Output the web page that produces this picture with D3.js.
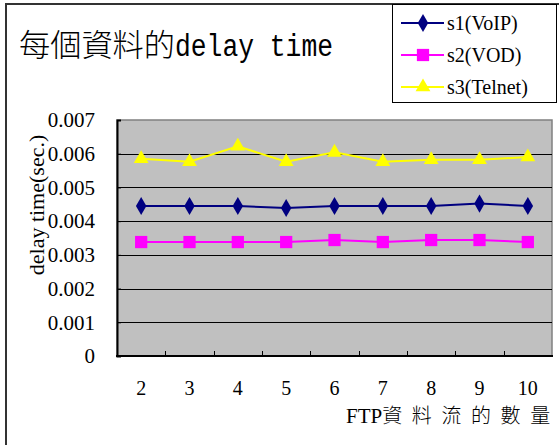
<!DOCTYPE html>
<html>
<head>
<meta charset="utf-8">
<script src="https://cdn.jsdelivr.net/npm/d3@7"></script>
<style>
  body { margin: 0; background: #fff; }
  svg { display: block; }
  .serif { font-family: "Liberation Serif", "DejaVu Serif", serif; }
</style>
</head>
<body>
<div id="chart"></div>
<script>
// data
var categories = [2, 3, 4, 5, 6, 7, 8, 9, 10];
var s1 = [0.00445, 0.00445, 0.00445, 0.00439, 0.00445, 0.00445, 0.00445, 0.00452, 0.00445];
var s2 = [0.00338, 0.00338, 0.00338, 0.00338, 0.00344, 0.00338, 0.00344, 0.00344, 0.00338];
var s3 = [0.00585, 0.00576, 0.00622, 0.00576, 0.00604, 0.00576, 0.00582, 0.00582, 0.00590];
var seriesNames = ["s1(VoIP)", "s2(VOD)", "s3(Telnet)"];
var yTicks = [0, 0.001, 0.002, 0.003, 0.004, 0.005, 0.006, 0.007];
var yTickLabels = ["0", "0.001", "0.002", "0.003", "0.004", "0.005", "0.006", "0.007"];

var W = 559, H = 445;
var cjk = "Noto Sans CJK TC";

var svg = d3.select("#chart").append("svg")
    .attr("width", W)
    .attr("height", H);

// outer chart frame (runs off the right/bottom edge)
svg.append("rect")
    .attr("x", 6).attr("y", 4)
    .attr("width", W + 10).attr("height", H + 10)
    .attr("fill", "#fff")
    .attr("stroke", "#333")
    .attr("stroke-width", 2);

// title
var title = svg.append("text")
    .attr("x", 19).attr("y", 56)
    .attr("font-size", 31)
    .attr("fill", "#000");
title.append("tspan")
    .style("font-family", cjk)
    .style("font-weight", 300)
    .attr("textLength", 156)
    .attr("lengthAdjust", "spacingAndGlyphs")
    .text("每個資料的");
title.append("tspan")
    .style("font-family", "Liberation Mono")
    .attr("textLength", 158)
    .attr("lengthAdjust", "spacingAndGlyphs")
    .text("delay time");

// scales
var x = d3.scaleBand().domain(categories).range([117, 552]);
var y = d3.scaleLinear().domain([0, 0.007]).range([356, 120]);
var cx = function(c) { return x(c) + x.bandwidth() / 2; };

// plot area
svg.append("rect")
    .attr("x", 117).attr("y", y(0.007))
    .attr("width", 552 - 117).attr("height", y(0) - y(0.007))
    .attr("fill", "#c0c0c0")
    .attr("stroke", "#808080")
    .attr("stroke-width", 1.5);

// gridlines
svg.append("g").selectAll("line")
    .data(yTicks.filter(function(d) { return d > 0 && d < 0.007; }))
    .enter().append("line")
    .attr("x1", 117).attr("x2", 552)
    .attr("y1", function(d) { return Math.round(y(d)) + 0.5; })
    .attr("y2", function(d) { return Math.round(y(d)) + 0.5; })
    .attr("stroke", "#000")
    .attr("stroke-width", 1);

// y axis
var yAxis = svg.append("g")
    .attr("transform", "translate(117,0)")
    .call(d3.axisLeft(y)
        .tickValues(yTicks)
        .tickFormat(function(d, i) { return yTickLabels[i]; })
        .tickSize(-4)
        .tickPadding(22));
yAxis.attr("font-family", null).attr("font-size", null);
yAxis.select(".domain").attr("stroke", "#000").attr("stroke-width", 2);
yAxis.selectAll("text")
    .attr("class", "serif")
    .style("font-size", "21px")
    .attr("fill", "#000");

// x axis line and tick marks at band edges
svg.append("line")
    .attr("x1", 116).attr("x2", 553)
    .attr("y1", y(0)).attr("y2", y(0))
    .attr("stroke", "#000").attr("stroke-width", 2);
svg.append("g").selectAll("line")
    .data(categories.slice(1))
    .enter().append("line")
    .attr("x1", function(c) { return Math.round(x(c)) + 0.5; })
    .attr("x2", function(c) { return Math.round(x(c)) + 0.5; })
    .attr("y1", y(0)).attr("y2", y(0) - 5)
    .attr("stroke", "#000");

// x tick labels
svg.append("g").selectAll("text")
    .data(categories)
    .enter().append("text")
    .attr("class", "serif")
    .attr("x", cx)
    .attr("y", 395)
    .attr("text-anchor", "middle")
    .style("font-size", "20px")
    .text(function(d) { return d; });

// axis titles
svg.append("text")
    .attr("class", "serif")
    .attr("transform", "translate(44,205) rotate(-90)")
    .attr("text-anchor", "middle")
    .style("font-size", "22px")
    .text("delay time(sec.)");

var xt = svg.append("text")
    .attr("x", 346).attr("y", 423)
    .style("font-size", "21px");
xt.append("tspan").attr("class", "serif").text("FTP");
xt.append("tspan")
    .style("font-family", cjk)
    .style("font-size", "20px")
    .style("font-weight", 300)
    .attr("textLength", 168)
    .attr("lengthAdjust", "spacing")
    .text("資料流的數量");

// series
var lineGen = d3.line()
    .x(function(d, i) { return cx(categories[i]); })
    .y(function(d) { return y(d); });

var series = [
    { name: seriesNames[0], values: s1, color: "#000080", symbol: d3.symbolDiamond, size: 95 },
    { name: seriesNames[1], values: s2, color: "#ff00ff", symbol: d3.symbolSquare, size: 150 },
    { name: seriesNames[2], values: s3, color: "#ffff00", symbol: d3.symbolTriangle, size: 95 }
];

series.forEach(function(s) {
    svg.append("path")
        .datum(s.values)
        .attr("d", lineGen)
        .attr("fill", "none")
        .attr("stroke", s.color)
        .attr("stroke-width", 2);
    svg.append("g").selectAll("path")
        .data(s.values)
        .enter().append("path")
        .attr("d", d3.symbol().type(s.symbol).size(s.size))
        .attr("transform", function(d, i) {
            return "translate(" + cx(categories[i]) + "," + y(d) + ")";
        })
        .attr("fill", s.color);
});

// legend
svg.append("rect")
    .attr("x", 392.5).attr("y", 4.5)
    .attr("width", 164).attr("height", 98)
    .attr("fill", "#fff")
    .attr("stroke", "#000")
    .attr("stroke-width", 1);

var legendRows = [23, 55, 87];
series.forEach(function(s, i) {
    var g = svg.append("g").attr("transform", "translate(0," + legendRows[i] + ")");
    g.append("line")
        .attr("x1", 401).attr("x2", 444)
        .attr("y1", 0).attr("y2", 0)
        .attr("stroke", s.color)
        .attr("stroke-width", 2);
    g.append("path")
        .attr("d", d3.symbol().type(s.symbol).size(s.size))
        .attr("transform", "translate(423,0)")
        .attr("fill", s.color);
    g.append("text")
        .attr("class", "serif")
        .attr("x", 447).attr("y", 7)
        .style("font-size", "20px")
        .text(s.name);
});
</script>
</body>
</html>
